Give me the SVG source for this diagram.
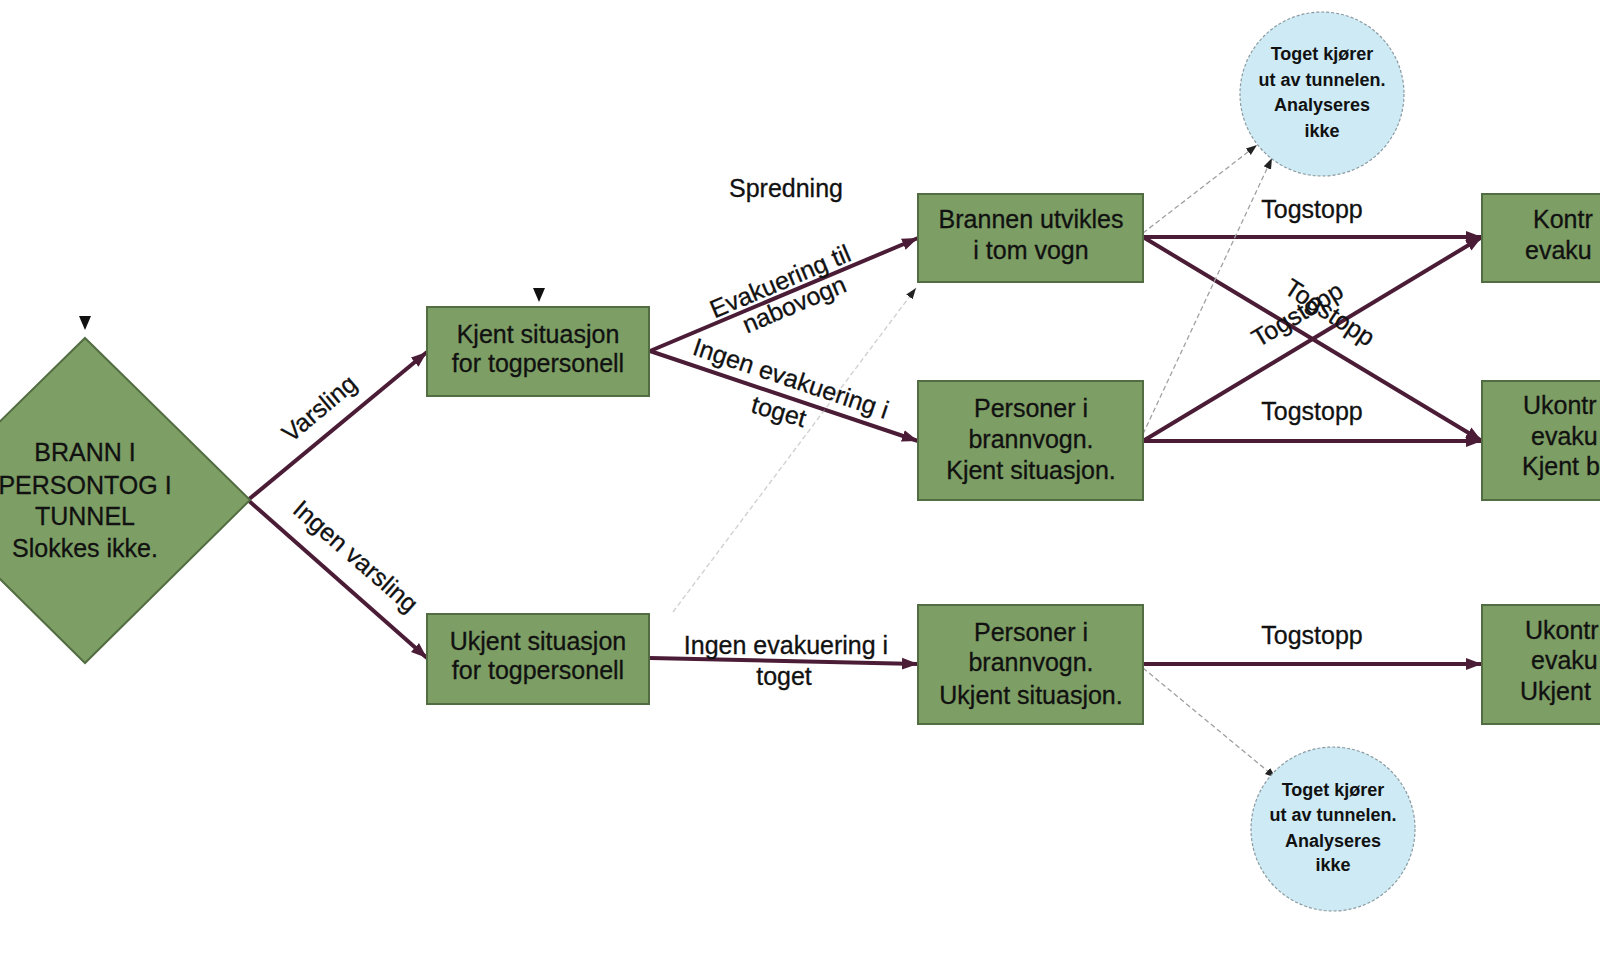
<svg xmlns="http://www.w3.org/2000/svg" width="1600" height="968" viewBox="0 0 1600 968">
<style>
.box{fill:#7d9e64;stroke:#536d42;stroke-width:2}
.circ{fill:#cdeaf5;stroke:#8a9aa0;stroke-width:1.2;stroke-dasharray:3 2}
.t{font-family:"Liberation Sans",Arial,sans-serif;font-size:25px;fill:#111;stroke:#111;stroke-width:0.3;text-anchor:middle}
.ts{font-family:"Liberation Sans",Arial,sans-serif;font-size:25px;fill:#111;stroke:#111;stroke-width:0.3;text-anchor:start}
.c{font-family:"Liberation Sans",Arial,sans-serif;font-size:18px;font-weight:bold;fill:#111;text-anchor:middle}
.e{fill:none;stroke:#4b1c36;stroke-width:4}
.d{fill:none;stroke:#a0a0a0;stroke-width:1.3;stroke-dasharray:5 3}
.tri{fill:#111}
</style>
<defs>
<marker id="ah" markerUnits="userSpaceOnUse" markerWidth="18" markerHeight="14" refX="16" refY="7" orient="auto">
<path d="M0,1 L16,7 L0,13 Z" fill="#4b1c36"/>
</marker>
<marker id="dh" markerUnits="userSpaceOnUse" markerWidth="12" markerHeight="10" refX="11" refY="5" orient="auto">
<path d="M0,1 L11,5 L0,9 Z" fill="#222"/>
</marker>
</defs>
<rect width="1600" height="968" fill="#ffffff"/>

<g id="connectors">
<line class="e" x1="248" y1="500" x2="427" y2="352" marker-end="url(#ah)"/>
<line class="e" x1="248" y1="500" x2="427" y2="658" marker-end="url(#ah)"/>
<line class="e" x1="650" y1="351" x2="918" y2="238" marker-end="url(#ah)"/>
<line class="e" x1="650" y1="351" x2="918" y2="441" marker-end="url(#ah)"/>
<line class="e" x1="650" y1="658" x2="918" y2="664" marker-end="url(#ah)"/>
<line class="e" x1="1143" y1="237" x2="1482" y2="237" marker-end="url(#ah)"/>
<line class="e" x1="1143" y1="237" x2="1482" y2="441" marker-end="url(#ah)"/>
<line class="e" x1="1143" y1="441" x2="1482" y2="237" marker-end="url(#ah)"/>
<line class="e" x1="1143" y1="441" x2="1482" y2="441" marker-end="url(#ah)"/>
<line class="e" x1="1143" y1="664" x2="1482" y2="664" marker-end="url(#ah)"/>
<line class="d" x1="1143" y1="233" x2="1257" y2="145" marker-end="url(#dh)"/>
<line class="d" x1="1143" y1="434" x2="1272" y2="158" marker-end="url(#dh)"/>
<line class="d" x1="1143" y1="668" x2="1276" y2="778" marker-end="url(#dh)"/>
<line class="d" x1="673" y1="612" x2="916" y2="288" stroke-opacity="0.5" marker-end="url(#dh)"/>
<path class="tri" d="M79,316 L91,316 L85,330 Z"/>
<path class="tri" d="M533,288 L545,288 L539,302 Z"/>

<text class="t" transform="translate(319,408) rotate(-40)" y="9">Varsling</text>
<text class="t" transform="translate(356,556) rotate(41)" y="9">Ingen varsling</text>
<text class="t" x="786" y="197">Spredning</text>
<text class="t" transform="translate(780,281) rotate(-23)" y="9">Evakuering til</text>
<text class="t" transform="translate(794,304) rotate(-23)" y="9">nabovogn</text>
<text class="t" transform="translate(791,378) rotate(18.5)" y="9">Ingen evakuering i</text>
<text class="t" transform="translate(779,411) rotate(16)" y="9">toget</text>
<text class="t" x="786" y="654">Ingen evakuering i</text>
<text class="t" x="784" y="685">toget</text>
<text class="t" x="1312" y="218">Togstopp</text>
<text class="t" x="1312" y="420">Togstopp</text>
<text class="t" x="1312" y="644">Togstopp</text>
<text class="t" transform="translate(1330,312) rotate(33)" y="9">Togstopp</text>
<text class="t" transform="translate(1297,314) rotate(-31)" y="9">Togstopp</text>
</g>

<g id="n-start">
<polygon class="box" points="85,338 250,500 85,663 -80,500"/>
<text class="t" x="85" y="461">BRANN I</text>
<text class="t" x="85" y="494">PERSONTOG I</text>
<text class="t" x="85" y="525">TUNNEL</text>
<text class="t" x="85" y="557">Slokkes ikke.</text>
</g>

<g id="n-kjent">
<rect class="box" x="427" y="307" width="222" height="89"/>
<text class="t" x="538" y="343">Kjent situasjon</text>
<text class="t" x="538" y="372">for togpersonell</text>
</g>

<g id="n-ukjent">
<rect class="box" x="427" y="614" width="222" height="90"/>
<text class="t" x="538" y="650">Ukjent situasjon</text>
<text class="t" x="538" y="679">for togpersonell</text>
</g>

<g id="n-brannen">
<rect class="box" x="918" y="194" width="225" height="88"/>
<text class="t" x="1031" y="228">Brannen utvikles</text>
<text class="t" x="1031" y="259">i tom vogn</text>
</g>

<g id="n-pers-kjent">
<rect class="box" x="918" y="381" width="225" height="119"/>
<text class="t" x="1031" y="417">Personer i</text>
<text class="t" x="1031" y="448">brannvogn.</text>
<text class="t" x="1031" y="479">Kjent situasjon.</text>
</g>

<g id="n-pers-ukjent">
<rect class="box" x="918" y="605" width="225" height="119"/>
<text class="t" x="1031" y="641">Personer i</text>
<text class="t" x="1031" y="671">brannvogn.</text>
<text class="t" x="1031" y="704">Ukjent situasjon.</text>
</g>

<g id="n-circle-top">
<ellipse class="circ" cx="1322" cy="94" rx="82" ry="82"/>
<text class="c" x="1322" y="60">Toget kjører</text>
<text class="c" x="1322" y="86">ut av tunnelen.</text>
<text class="c" x="1322" y="111">Analyseres</text>
<text class="c" x="1322" y="137">ikke</text>
</g>

<g id="n-circle-bottom">
<ellipse class="circ" cx="1333" cy="829" rx="82" ry="82"/>
<text class="c" x="1333" y="796">Toget kjører</text>
<text class="c" x="1333" y="821">ut av tunnelen.</text>
<text class="c" x="1333" y="847">Analyseres</text>
<text class="c" x="1333" y="871">ikke</text>
</g>

<g id="n-kontr">
<rect class="box" x="1482" y="194" width="140" height="88"/>
<text class="ts" x="1533" y="228">Kontr</text>
<text class="ts" x="1525" y="259">evaku</text>
</g>

<g id="n-ukontr-kjent">
<rect class="box" x="1482" y="381" width="140" height="119"/>
<text class="ts" x="1523" y="414">Ukontr</text>
<text class="ts" x="1531" y="445">evaku</text>
<text class="ts" x="1522" y="475">Kjent b</text>
</g>

<g id="n-ukontr-ukjent">
<rect class="box" x="1482" y="605" width="140" height="119"/>
<text class="ts" x="1525" y="639">Ukontr</text>
<text class="ts" x="1531" y="669">evaku</text>
<text class="ts" x="1520" y="700">Ukjent</text>
</g>
</svg>
